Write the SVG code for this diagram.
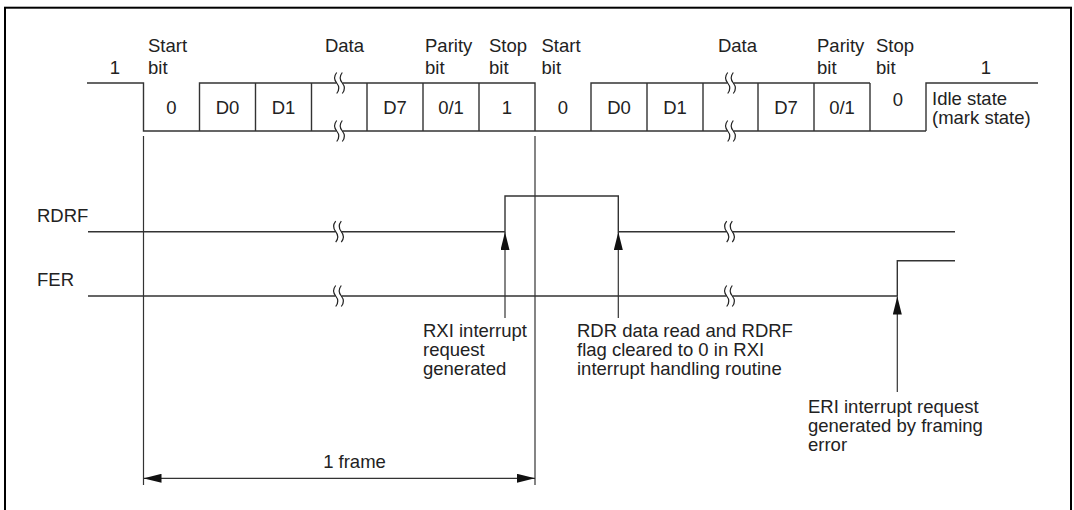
<svg xmlns="http://www.w3.org/2000/svg" width="1074" height="510" viewBox="0 0 1074 510">
<style>
text{font-family:"Liberation Sans",Arial,sans-serif;font-size:18.5px;fill:#222}
.c{text-anchor:middle}
.w{fill:none;stroke:#333;stroke-width:1.4}
.s{fill:none;stroke:#222;stroke-width:1.2}
.g{fill:#fff;stroke:none}
.a{fill:none;stroke:#333;stroke-width:1.2}
</style>
<defs>
<marker id="ah" viewBox="0 0 18 9" markerWidth="18" markerHeight="9" refX="18" refY="4.5" orient="auto-start-reverse" markerUnits="userSpaceOnUse">
<path d="M0,0 L18,4.5 L0,9 z" fill="#111"/>
</marker>
<g id="brk">
<rect class="g" x="-3" y="-9" width="6" height="18"/>
<path class="s" d="M-2.8,-10.5 Q-7,-5.25 -2.8,0 Q1.4,5.25 -2.8,10.5 M2.8,-10.5 Q-1.4,-5.25 2.8,0 Q7,5.25 2.8,10.5"/>
</g>
</defs>
<rect x="5" y="7.7" width="1066" height="520" fill="#fff" stroke="#000" stroke-width="2"/>

<g id="waveform">
<path class="w" d="M87,83 H143.5 V131 H535 M199.5,131 V83 H535 V131 H926 M591,131 V83 H870 M926,131 V83 H1038"/>
<path class="w" d="M255.5,83 V131 M311.5,83 V131 M367,83 V131 M423,83 V131 M479,83 V131 M647,83 V131 M703,83 V131 M758,83 V131 M814,83 V131 M870,83 V131"/>
<use href="#brk" x="339.5" y="83"/>
<use href="#brk" x="339.5" y="131"/>
<use href="#brk" x="730.5" y="83"/>
<use href="#brk" x="730.5" y="131"/>
</g>

<g id="header-labels">
<text class="c" x="115" y="74">1</text>
<text x="148" y="51.7">Start</text><text x="148" y="74.3">bit</text>
<text class="c" x="344.5" y="51.7">Data</text>
<text x="425" y="51.7">Parity</text><text x="425" y="74.3">bit</text>
<text x="489" y="51.7">Stop</text><text x="489" y="74.3">bit</text>
<text x="541.5" y="51.7">Start</text><text x="541.5" y="74.3">bit</text>
<text class="c" x="737.5" y="51.7">Data</text>
<text x="817" y="51.7">Parity</text><text x="817" y="74.3">bit</text>
<text x="876" y="51.7">Stop</text><text x="876" y="74.3">bit</text>
<text class="c" x="986" y="74">1</text>
<text x="932" y="105">Idle state</text>
<text x="932" y="124">(mark state)</text>
</g>

<g id="bit-labels">
<text class="c" x="171.5" y="114">0</text>
<text class="c" x="227.5" y="114">D0</text>
<text class="c" x="283.5" y="114">D1</text>
<text class="c" x="395" y="114">D7</text>
<text class="c" x="451" y="114">0/1</text>
<text class="c" x="507" y="114">1</text>
<text class="c" x="563" y="114">0</text>
<text class="c" x="619" y="114">D0</text>
<text class="c" x="675" y="114">D1</text>
<text class="c" x="786" y="114">D7</text>
<text class="c" x="842" y="114">0/1</text>
<text class="c" x="898" y="106">0</text>
</g>

<g id="rdrf">
<text x="37" y="221.7">RDRF</text>
<path class="w" d="M88,231.7 H505 V196 H618.3 V231.7 H955"/>
<use href="#brk" x="338.5" y="231.7"/>
<use href="#brk" x="729.5" y="231.7"/>
</g>

<g id="fer">
<text x="37" y="286">FER</text>
<path class="w" d="M88,296 H897.3 V260.7 H955"/>
<use href="#brk" x="338.5" y="296"/>
<use href="#brk" x="729.5" y="296"/>
</g>

<g id="connectors">
<line class="a" x1="143.5" y1="136" x2="143.5" y2="485"/>
<line class="a" x1="535" y1="136" x2="535" y2="485"/>
<line class="a" x1="505" y1="318" x2="505" y2="232" marker-end="url(#ah)"/>
<line class="a" x1="618.3" y1="318" x2="618.3" y2="232" marker-end="url(#ah)"/>
<line class="a" x1="897.3" y1="392" x2="897.3" y2="296.5" marker-end="url(#ah)"/>
<line class="a" x1="143.5" y1="478.3" x2="535" y2="478.3" marker-start="url(#ah)" marker-end="url(#ah)"/>
</g>

<g id="notes">
<text x="423" y="337">RXI interrupt</text>
<text x="423" y="356">request</text>
<text x="423" y="375">generated</text>
<text x="577" y="337">RDR data read and RDRF</text>
<text x="577" y="356">flag cleared to 0 in RXI</text>
<text x="577" y="375">interrupt handling routine</text>
<text x="808" y="413">ERI interrupt request</text>
<text x="808" y="432">generated by framing</text>
<text x="808" y="451">error</text>
<text class="c" x="354.5" y="468">1 frame</text>
</g>
</svg>
